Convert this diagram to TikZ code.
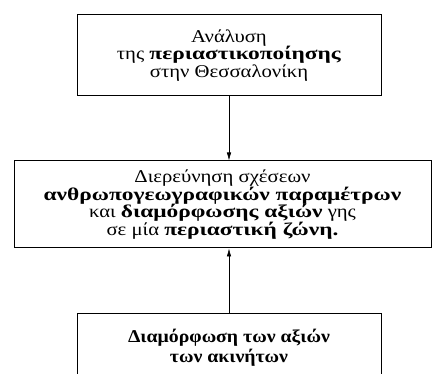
\documentclass[tikz,border=0pt]{standalone}
\usepackage{fontspec}
\setmainfont[UprightFeatures={FakeStretch=1.15}, BoldFeatures={FakeStretch=1.3}]{Liberation Serif}
\newfontfamily\akinita[BoldFeatures={FakeStretch=1.1}]{Liberation Serif}
\usetikzlibrary{arrows.meta, positioning}

\begin{document}
\begin{tikzpicture}[x=1pt, y=1pt,
    box/.style={draw, line width=1pt, rectangle, align=center, inner sep=0pt,
        font=\fontsize{18}{17.7}\selectfont},
    link/.style={-{Latex[length=8pt, width=4.5pt]}, line width=0.6pt}]
    \useasboundingbox (0, 0) rectangle (432, 373);
    \clip (0, 0) rectangle (432, 373);

    % πλαίσια
    \node[box, minimum width=304, minimum height=81] (analysi) at (229, 317.5)
        {Ανάλυση\\της \textbf{περιαστικοποίησης}\\στην Θεσσαλονίκη};
    \node[box, minimum width=417, minimum height=87] (dierevnisi) at (222.5, 168.5)
        {Διερεύνηση σχέσεων\\\textbf{ανθρωπογεωγραφικών παραμέτρων}\\και \textbf{διαμόρφωσης αξιών} γης\\σε μία \textbf{περιαστική ζώνη.}};
    \node[box, minimum width=304, minimum height=68, font=\akinita\fontsize{18}{20}\selectfont] (axies) at (229, 25)
        {\textbf{Διαμόρφωση των αξιών}\\\textbf{των ακινήτων}};

    % βέλη
    \draw[link] (analysi.south) -- (dierevnisi.north -| analysi.south);
    \draw[link] (axies.north) -- (dierevnisi.south -| axies.north);
\end{tikzpicture}
\end{document}
